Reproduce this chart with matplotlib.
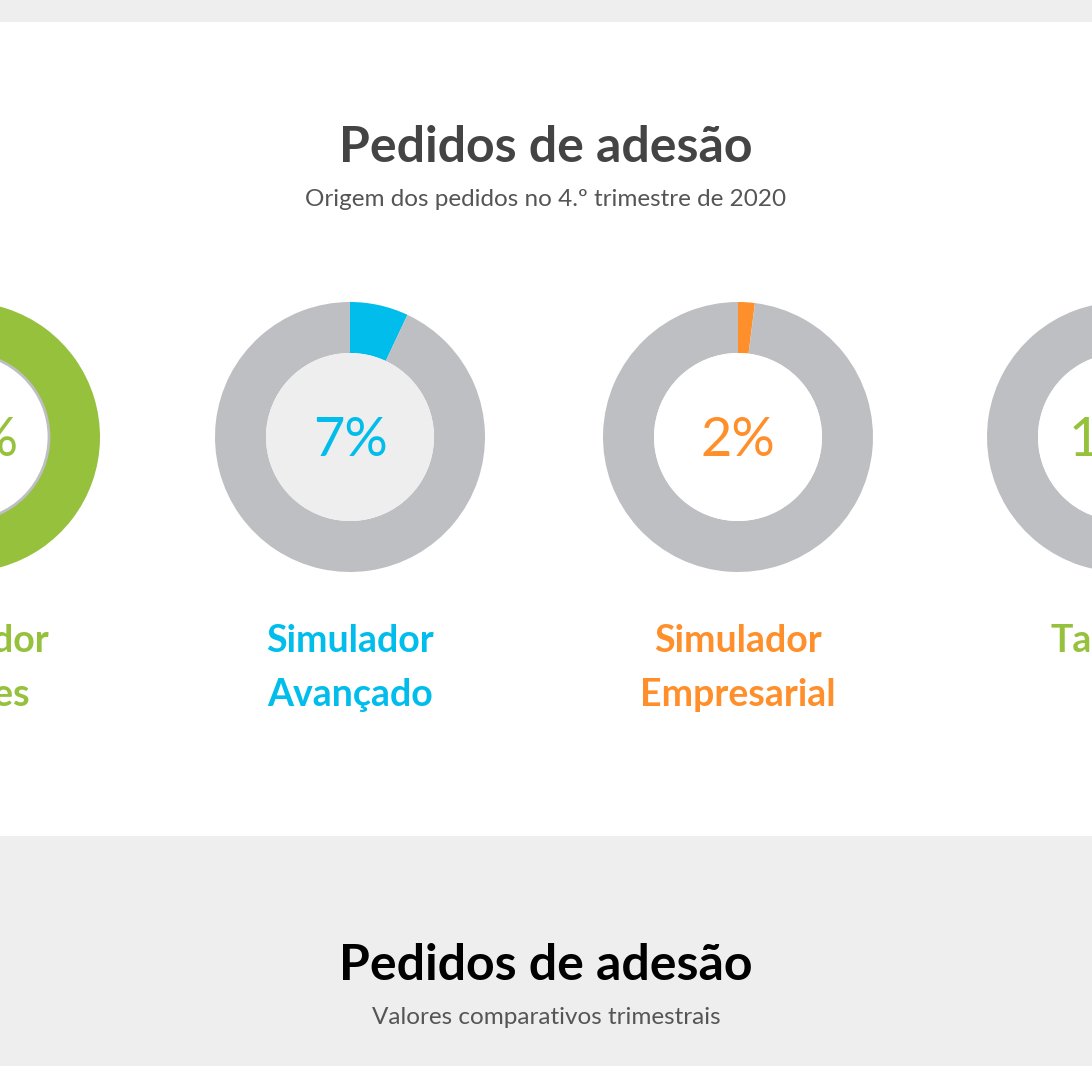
import matplotlib.pyplot as plt
from matplotlib.patches import Rectangle, Circle

W, H = 1092, 1066

titulo = "Pedidos de adesão"
subtitulo = "Origem dos pedidos no 4.º trimestre de 2020"
titulo_2 = "Pedidos de adesão"
subtitulo_2 = "Valores comparativos trimestrais"

origens = [["Simulador", "Simples"], ["Simulador", "Avançado"],
           ["Simulador", "Empresarial"], ["Tarifário"]]
percentagens = [81, 7, 2, 10]
cores = ["#96c13d", "#00bdeb", "#ff8f2a", "#96c13d"]
cor_resto = "#bebfc3"
fundo_furo = ["white", "#eeeeee", "white", "white"]

plt.rcParams["font.family"] = ["Lato", "DejaVu Sans"]

fig = plt.figure(figsize=(W / 100, H / 100), dpi=100)
fig.patch.set_facecolor("#eeeeee")
ax = fig.add_axes([0, 0, 1, 1])

# painel branco
ax.add_patch(Rectangle((0, H - 836), W, 814, facecolor="white", edgecolor="none", zorder=0))

centros_x = [-35, 350, 738, 1122]
cy = H - 437
r_ext = 135
r_int = 84

for i, (linhas, pct, cor) in enumerate(zip(origens, percentagens, cores)):
    cx = centros_x[i]
    ax.pie(
        [pct, 100 - pct],
        colors=[cor, cor_resto],
        center=(cx, cy),
        radius=r_ext,
        startangle=90,
        counterclock=False,
        wedgeprops=dict(width=r_ext - r_int, edgecolor="none", linewidth=0),
        frame=True,
    )
    ax.add_patch(Circle((cx, cy), r_int, facecolor=fundo_furo[i], edgecolor="none", zorder=3))
    if i == 0:
        ax.add_patch(Circle((cx, cy), r_int, facecolor="none", edgecolor=cor_resto, linewidth=2, zorder=4))
    ax.text(cx, cy - 4, f"{pct}%", ha="center", va="center", fontsize=39,
            fontweight="normal", color=cor, zorder=5)
    for k, linha in enumerate(linhas):
        ax.text(cx, H - 641 - k * 54, linha, ha="center", va="center", fontsize=27,
                fontweight="bold", color=cor, zorder=5)

ax.text(W / 2, H - 148, titulo, ha="center", va="center", fontsize=36,
        fontweight="bold", color="#444444")
ax.text(W / 2, H - 200, subtitulo, ha="center", va="center", fontsize=17.5,
        color="#555555")
ax.text(W / 2, H - 965, titulo_2, ha="center", va="center", fontsize=36,
        fontweight="bold", color="black")
ax.text(W / 2, H - 1017, subtitulo_2, ha="center", va="center", fontsize=17.5,
        color="#555555")

ax.set_xlim(0, W)
ax.set_ylim(0, H)
ax.set_aspect("auto")
ax.axis("off")

fig.savefig("out.png", dpi=100, facecolor=fig.get_facecolor())
